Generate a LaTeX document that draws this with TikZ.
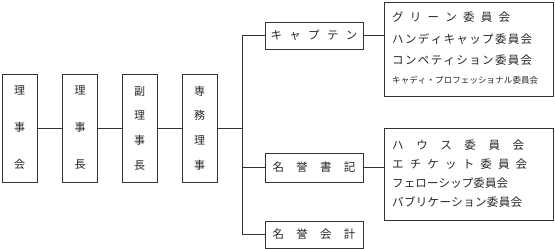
\documentclass[tikz,border=0pt]{standalone}
\usepackage{fontspec}
\setmainfont{Noto Sans CJK JP}
\makeatletter
\newcommand\spreadchars[2]{\makebox[#1][s]{\spread@go#2\relax}}
\def\spread@go#1{\ifx#1\relax\else#1\expandafter\spread@next\fi}
\def\spread@next#1{\ifx#1\relax\else\hfill#1\expandafter\spread@next\fi}
\makeatother
\tikzset{
  ln/.style={draw=black!80, line width=0.8pt},
  vbox/.style={ln, minimum width=35pt, minimum height=108pt, inner sep=0pt, align=center,
    font=\fontsize{11}{11}\selectfont, text=black!85},
  hbox/.style={ln, minimum width=98pt, minimum height=27pt, inner sep=0pt,
    font=\fontsize{11.5}{11.5}\selectfont, text=black!85},
  cbox/.style={ln, minimum width=169pt, inner sep=0pt},
  row/.style={anchor=west, inner sep=0pt, font=\fontsize{11.5}{11.5}\selectfont, text=black!85},
  srow/.style={row, font=\fontsize{8.5}{8.5}\selectfont}
}
\begin{document}
\begin{tikzpicture}[x=1pt,y=-1pt]
\useasboundingbox (0,0) rectangle (555,249);
% left chain
\node[vbox] (b1) at (19.5,128) {理\\[26pt]事\\[26pt]会};
\node[vbox] (b2) at (80,128) {理\\[26pt]事\\[26pt]長};
\node[vbox] (b3) at (139.5,128) {副\\[13.7pt]理\\[13.7pt]事\\[13.7pt]長};
\node[vbox] (b4) at (199.5,128) {専\\[13.7pt]務\\[13.7pt]理\\[13.7pt]事};
% middle column
\node[hbox] (cap) at (314,35.5) {\spreadchars{87pt}{キャプテン}};
\node[hbox, minimum height=29pt] (sho) at (314,167.5) {\spreadchars{83pt}{名誉書記}};
\node[hbox] (kai) at (314,234.5) {\spreadchars{83pt}{名誉会計}};
% committee boxes
\node[cbox, minimum height=94pt] (c1) at (468.5,49) {};
\node[cbox, minimum height=92pt] (c2) at (468.5,174) {};
\node[row] (r1) at (392,17) {\spreadchars{118pt}{グリーン委員会}};
\node[row] (r2) at (392,39) {\spreadchars{140pt}{ハンディキャップ委員会}};
\node[row] (r3) at (392,60) {\spreadchars{140pt}{コンペティション委員会}};
\node[srow] (r4) at (392,80) {\spreadchars{146pt}{キャディ・プロフェッショナル委員会}};
\node[row] (s1) at (392,145) {\spreadchars{132pt}{ハウス委員会}};
\node[row] (s2) at (392,164) {\spreadchars{135pt}{エチケット委員会}};
\node[row] (s3) at (392,183) {\spreadchars{116pt}{フェローシップ委員会}};
\node[row] (s4) at (392,202) {\spreadchars{130pt}{パブリケーション委員会}};
% connectors
\coordinate (tx) at (242,0);
\draw[ln] (b1) -- (b2);
\draw[ln] (b2) -- (b3);
\draw[ln] (b3) -- (b4);
\draw[ln] (b4.east) -- (b4.east -| tx);
\draw[ln] (cap.west -| tx) -- (kai.west -| tx);
\draw[ln] (cap.west -| tx) -- (cap.west);
\draw[ln] (sho.west -| tx) -- (sho.west);
\draw[ln] (kai.west -| tx) -- (kai.west);
\draw[ln] (cap.east) -- (cap.east -| c1.west);
\draw[ln] (sho.east) -- (sho.east -| c2.west);
\end{tikzpicture}
\end{document}
